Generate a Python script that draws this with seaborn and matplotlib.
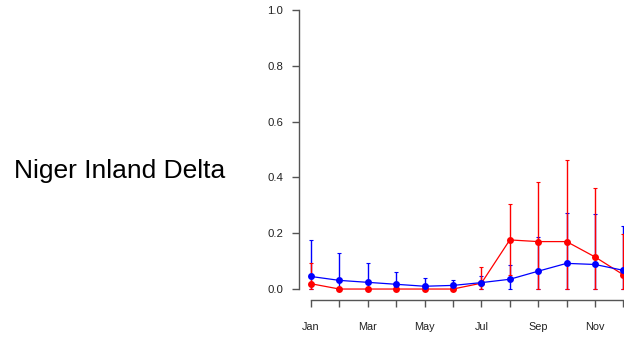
import matplotlib
matplotlib.use("Agg")
import matplotlib.pyplot as plt
import seaborn as sns
import pandas as pd
import numpy as np

# Monthly values (month 1 = Jan ... 12 = Dec)
months = list(range(1, 13))
tick_labels = ["Jan", "", "Mar", "", "May", "", "Jul", "", "Sep", "", "Nov", ""]
region = "Niger Inland Delta"

red_mean = [0.019, 0.0, 0.0, 0.0, 0.0, 0.0, 0.021, 0.176, 0.170, 0.170, 0.115, 0.051]
red_upper = [0.093, 0.0, 0.0, 0.0, 0.0, 0.0, 0.079, 0.305, 0.385, 0.462, 0.361, 0.198]
red_lower = [0.0, 0.0, 0.0, 0.0, 0.0, 0.0, 0.0, 0.052, 0.0, 0.0, 0.0, 0.0]

blue_mean = [0.045, 0.031, 0.024, 0.017, 0.010, 0.013, 0.023, 0.035, 0.064, 0.092, 0.088, 0.067]
blue_upper = [0.176, 0.129, 0.095, 0.061, 0.039, 0.032, 0.046, 0.086, 0.186, 0.271, 0.268, 0.227]
blue_lower = [0.0, 0.0, 0.0, 0.0, 0.0, 0.0, 0.0, 0.0, 0.0, 0.0, 0.0, 0.0]

df = pd.DataFrame({
    "month": months * 2,
    "value": red_mean + blue_mean,
    "lower": red_lower + blue_lower,
    "upper": red_upper + blue_upper,
    "series": ["red"] * 12 + ["blue"] * 12,
})
palette = {"red": "#FF0000", "blue": "#0000FF"}

sns.set_style("white")
plt.rcParams["font.family"] = ["Liberation Sans", "DejaVu Sans"]

fig = plt.figure(figsize=(6.24, 3.37), dpi=100)
W, H = 624, 337
left_px, right_px = 298.5, 635.9
top_px, bottom_px = -1.2, 300.2
ax = fig.add_axes([left_px / W, 1 - bottom_px / H,
                   (right_px - left_px) / W, (bottom_px - top_px) / H])

for name in ["blue", "red"]:
    sub = df[df["series"] == name]
    c = palette[name]
    ax.errorbar(sub["month"], sub["value"],
                yerr=[sub["value"] - sub["lower"], sub["upper"] - sub["value"]],
                fmt="none", ecolor=c, elinewidth=1.0, capsize=1.6, capthick=0.8,
                zorder=2)

sns.lineplot(data=df, x="month", y="value", hue="series", palette=palette,
             hue_order=["red", "blue"], marker="o", markersize=5,
             markeredgewidth=0, linewidth=0.9, legend=False, ax=ax,
             zorder=3, clip_on=True)

ax.set_xlim(0.56, 12.44)
ax.set_ylim(-0.04, 1.04)
ax.set_xticks(months)
ax.set_xticklabels(tick_labels)
ax.set_yticks([0.0, 0.2, 0.4, 0.6, 0.8, 1.0])
ax.set_yticklabels(["0.0", "0.2", "0.4", "0.6", "0.8", "1.0"])
ax.set_xlabel("")
ax.set_ylabel("")

for s in ["top", "right"]:
    ax.spines[s].set_visible(False)
ax.spines["left"].set_bounds(0, 1)
ax.spines["bottom"].set_bounds(1, 12)
for s in ["left", "bottom"]:
    ax.spines[s].set_color("#555555")
    ax.spines[s].set_linewidth(1.0)

ax.tick_params(axis="both", which="major", bottom=True, left=True,
               direction="out", length=5, width=1.0,
               color="#555555", labelcolor="#222222")
ax.tick_params(axis="x", pad=11, labelsize=7.8)
ax.tick_params(axis="y", pad=6, labelsize=8.2)
ax.patch.set_alpha(0)

fig.text(14 / W, 1 - 178 / H, region, ha="left", va="baseline",
         fontsize=19, color="black")

fig.savefig("out.png", dpi=100)
